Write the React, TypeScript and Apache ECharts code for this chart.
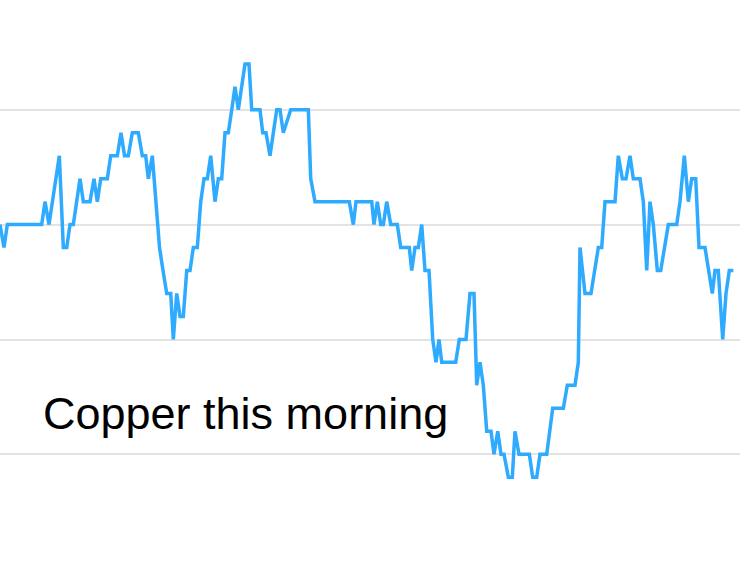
import React, { useEffect, useRef } from "react";
import * as echarts from "echarts";

// Minutes since the open (x) and copper price in US cents per lb (y)
const minutes: number[] = [
  0, 1, 1.83, 10.43, 11.25, 12.25, 14.83, 15.83, 16.68, 17.5, 18.33, 20, 20.83, 22.5, 23.5, 24.33,
  25.18, 26.83, 27.68, 29.33, 30.25, 31.13, 32.08, 33.08, 34.58, 35.58, 36.43, 37.08, 38.08, 39.88,
  40.75, 41.68, 42.68, 43.33, 44.18, 45, 45.83, 46.68, 47.5, 48.33, 49.33, 50.18, 51, 51.83, 52.68,
  53.75, 54.58, 55.43, 56.25, 57.08, 57.93, 58.75, 59.58, 61.25, 62.25, 62.93, 65, 65.68, 66.5, 67.5,
  69.18, 70, 70.83, 72.68, 77.08, 77.68, 78.75, 87.33, 88.33, 89, 92.93, 93.5, 94.33, 95.18, 95.83,
  96.68, 97.68, 99.33, 100.18, 102.33, 102.93, 103.75, 104.58, 105.43, 106.25, 107.25, 108.18, 109,
  109.75, 110.43, 113.93, 114.83, 116.5, 117.5, 118.5, 119.18, 120, 120.83, 121.68, 122.75, 123.5,
  124.43, 125.25, 126, 127.08, 128.08, 128.75, 129.75, 132.33, 133.18, 134.18, 135, 136.68, 138.18,
  140.83, 141.83, 143.75, 144.58, 145, 146.25, 147.75, 149.58, 150.43, 151.25, 153.75, 154.58, 155.58,
  156.5, 157.5, 158.33, 160, 160.83, 161.68, 162.5, 163.33, 164.33, 165.18, 167.08, 169.18, 170,
  171.08, 172.08, 172.93, 173.93, 174.75, 176.25, 178.08, 178.75, 179.58, 180.68, 181.5, 182.33, 183.33,
];

const prices: number[] = [
  390, 389, 390, 390, 391, 390, 393, 389, 389, 390, 390, 392, 391, 391, 392, 391,
  392, 392, 393, 393, 394, 393, 393, 394, 394, 393, 393, 392, 393, 389,
  388, 387, 387, 385, 387, 386, 386, 388, 388, 389, 389, 391, 392, 392, 393,
  391, 392, 392, 394, 394, 395, 396, 395, 397, 397, 395, 395, 394, 394, 393,
  395, 395, 394, 395, 395, 392, 391, 391, 390, 391, 391, 390, 391, 390, 390,
  391, 390, 390, 389, 389, 388, 389, 389, 390, 388, 388, 385, 384,
  385, 384, 384, 385, 385, 387, 387, 383, 384, 383, 381, 381, 380,
  381, 380, 380, 379, 379, 381, 380, 380, 379, 379, 380, 380, 382,
  382, 383, 383, 384, 389, 387, 387, 389, 389, 391, 391, 393, 392,
  392, 393, 392, 392, 391, 388, 391, 390, 388, 388, 390, 390, 391,
  393, 391, 392, 392, 389, 389, 387, 388, 388, 385, 387, 388, 388,
];

const gridValues: number[] = [375, 380, 385, 390, 395, 400];
const title = "Copper this morning";

export default function App() {
  const ref = useRef<HTMLDivElement>(null);

  useEffect(() => {
    if (!ref.current) return;
    const chart = echarts.init(ref.current, null, { renderer: "svg" });
    const data = minutes.map((m, i) => [m, prices[i]]);
    chart.setOption({
      animation: false,
      grid: { left: 0, right: 0, top: 0, bottom: 0, containLabel: false },
      xAxis: {
        type: "value",
        min: 0,
        max: 185,
        show: false,
      },
      yAxis: {
        type: "value",
        min: gridValues[0],
        max: gridValues[gridValues.length - 1],
        interval: 5,
        axisLine: { show: false },
        axisTick: { show: false },
        axisLabel: { show: false },
        splitLine: {
          show: true,
          showMinLine: false,
          showMaxLine: false,
          lineStyle: { color: "#e3e3e3", width: 2 },
        },
      },
      graphic: [
        {
          type: "text",
          left: 43,
          top: 396,
          style: {
            text: title,
            fill: "#000000",
            font: '45px "Liberation Sans", Arial, sans-serif',
          },
        },
      ],
      series: [
        {
          type: "line",
          data,
          showSymbol: false,
          symbol: "none",
          lineStyle: { color: "#2eaaff", width: 3.5, join: "miter", miterLimit: 4 },
        },
      ],
    });
    return () => chart.dispose();
  }, []);

  return (
    <div
      ref={ref}
      style={{ position: "fixed", left: 0, top: -5, width: 740, height: 574, background: "#ffffff" }}
    />
  );
}
